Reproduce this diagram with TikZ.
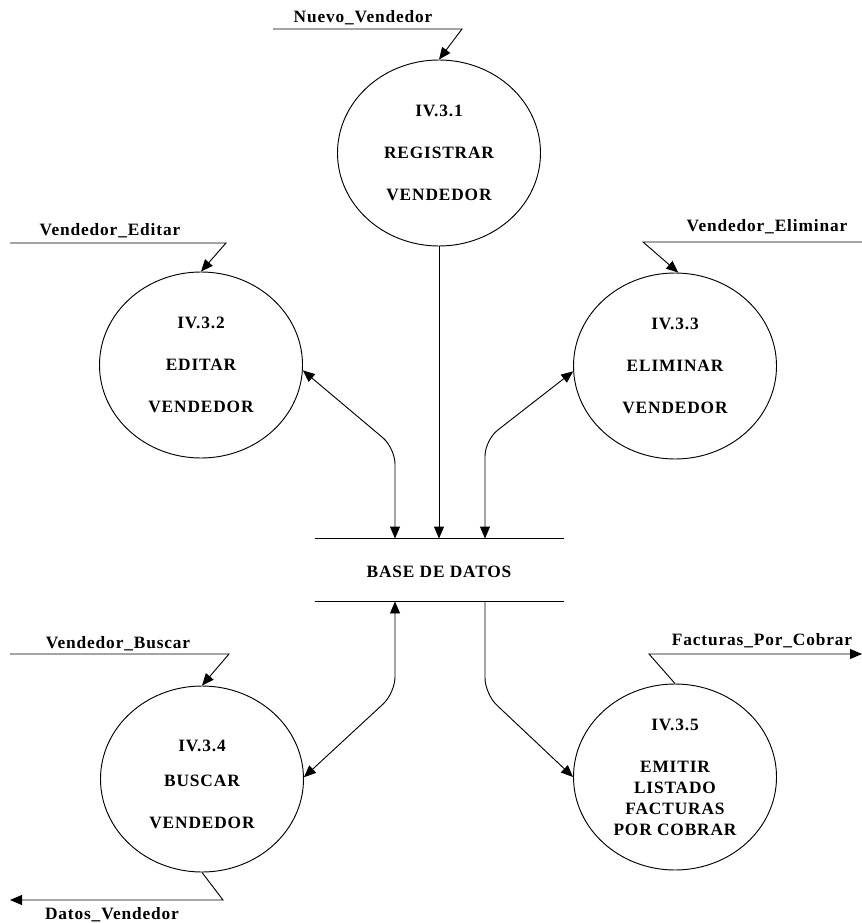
\documentclass[tikz,border=0pt]{standalone}
\usepackage{fontspec}
\setmainfont{Liberation Serif}[LetterSpace=5]
\usetikzlibrary{shapes.geometric,arrows.meta}

\begin{document}
\begin{tikzpicture}[x=0.75pt,y=-0.75pt,line width=0.7pt,
  proc/.style={draw,ellipse,minimum width=152.25pt,minimum height=139.5pt,inner sep=0pt,
    align=center,font=\fontsize{13}{31.5}\selectfont\bfseries},
  lbl/.style={anchor=base,inner sep=0pt,font=\fontsize{13}{15}\selectfont\bfseries},
  flow/.style={-{Triangle[length=9pt,width=7.5pt]}},
  dflow/.style={{Triangle[length=9pt,width=7.5pt]}-{Triangle[length=9pt,width=7.5pt]}}]
\useasboundingbox (0,0) rectangle (862,923);
\node[proc] (p1) at (439,153) {IV.3.1\\REGISTRAR\\VENDEDOR};
\node[proc] (p2) at (201,365) {IV.3.2\\EDITAR\\VENDEDOR};
\node[proc] (p3) at (675,366) {IV.3.3\\ELIMINAR\\VENDEDOR};
\node[proc] (p4) at (202,779) {\rule{0pt}{16pt}IV.3.4\\[-5.25pt]BUSCAR\\VENDEDOR};
\node[proc,font=\fontsize{13}{15.75}\selectfont\bfseries] (p5) at (675,777)
  {IV.3.5\\[15.75pt]EMITIR\\LISTADO\\FACTURAS\\POR COBRAR};
\node[inner sep=0pt,minimum width=186.75pt,minimum height=46.5pt] (store) at (439.5,570) {};
\node[lbl] (storetxt) at (439,577) {BASE DE DATOS};
\draw (store.north west) -- (store.north east);
\draw (store.south west) -- (store.south east);
\coordinate (c2) at (395,448);
\coordinate (c3) at (485,440);
\coordinate (c4) at (395,693);
\coordinate (c5) at (485,694);
\draw[flow] (p1.south) -- (p1.south |- store.north);
\draw[dflow,rounded corners=12pt] (p2.-3) -- (c2) -- (c2 |- store.north);
\draw[dflow,rounded corners=12pt] (p3.183) -- (c3) -- (c3 |- store.north);
\draw[dflow,rounded corners=12pt] (c4 |- store.south) -- (c4) -- (p4.1);
\draw[flow,rounded corners=12pt] (c5 |- store.south) -- (c5) -- (p5.west);
\coordinate (n1) at (273,29);
\coordinate (n2) at (462,29);
\draw[flow] (n1) -- (n2) -- (p1.north);
\node[lbl] (l1) at (363,23) {Nuevo\_Vendedor};
\coordinate (e1) at (10,243);
\coordinate (e2) at (226,243);
\draw[flow] (e1) -- (e2) -- (p2.north);
\node[lbl] (l2) at (110,236) {Vendedor\_Editar};
\coordinate (m1) at (862,242);
\coordinate (m2) at (643,242);
\draw[flow] (m1) -- (m2) -- (p3.88);
\node[lbl] (l3) at (767,232) {Vendedor\_Eliminar};
\coordinate (b1) at (10,654);
\coordinate (b2) at (229,654);
\draw[flow] (b1) -- (b2) -- (p4.north);
\node[lbl] (l4) at (118,648) {Vendedor\_Buscar};
\coordinate (d1) at (223,900);
\coordinate (d2) at (10,900);
\draw[flow] (p4.south) -- (d1) -- (d2);
\node[lbl] (l5) at (112,919) {Datos\_Vendedor};
\coordinate (f1) at (649,654);
\coordinate (f2) at (862,654);
\draw[flow] (p5.north) -- (f1) -- (f2);
\node[lbl] (l6) at (762,645) {Facturas\_Por\_Cobrar};
\end{tikzpicture}
\end{document}
